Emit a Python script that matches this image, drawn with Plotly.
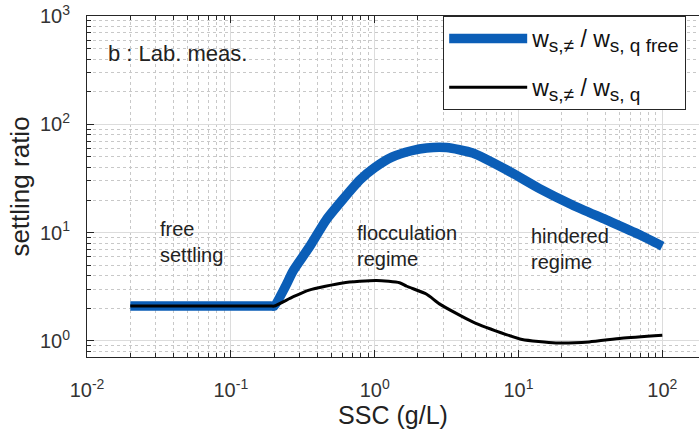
import math
import plotly.graph_objects as go

# ---- data ----
ssc_free = [0.02, 0.19, 0.2, 0.24, 0.27, 0.35, 0.46, 0.6, 0.79, 1.0, 1.33, 1.8, 2.3, 3.16,
            4.8, 8.3, 14, 23.7, 40.8, 69, 100]
ratio_free = [2.1, 2.1, 2.1, 3.2, 4.4, 7.3, 13.1, 20.2, 30.7, 39.8, 50, 57, 60.5, 61,
              54.4, 37.9, 25.5, 18.0, 13.1, 9.6, 7.5]

ssc_q = [0.02, 0.19, 0.2, 0.27, 0.35, 0.6, 1.03, 1.49, 1.67, 2.3, 2.82, 4.8, 8.3,
         10.6, 18.2, 31, 52, 100]
ratio_q = [2.1, 2.1, 2.1, 2.55, 2.95, 3.43, 3.62, 3.45, 3.2, 2.7, 2.2, 1.5, 1.14,
           1.03, 0.96, 0.98, 1.06, 1.13]

x_tickvals = [0.01, 0.1, 1, 10, 100]
x_ticktext = ["10<sup>-2</sup>", "10<sup>-1</sup>", "10<sup>0</sup>",
              "10<sup>1</sup>", "10<sup>2</sup>"]
y_tickvals = [1, 10, 100, 1000]
y_ticktext = ["10<sup>0</sup>", "10<sup>1</sup>", "10<sup>2</sup>", "10<sup>3</sup>"]
x_minor = [m * 10.0 ** d for d in range(-2, 3) for m in range(2, 10)]
y_minor = [m * 10.0 ** d for d in range(-1, 3) for m in range(2, 10)]

SUBSTYLE = '<span style="font-size:19px">'
legend_names = [
    "w<sub>" + SUBSTYLE + "s,≠</span></sub> / w<sub>" + SUBSTYLE + "s, q free</span></sub>",
    "w<sub>" + SUBSTYLE + "s,≠</span></sub> / w<sub>" + SUBSTYLE + "s, q</span></sub>",
]

region_labels = ["free<br>settling", "flocculation<br>regime", "hindered<br>regime"]
region_x = [0.031, 0.73, 11.9]   # SSC (g/L) of label left edges
region_y = [8.2, 7.6, 7.1]       # ratio at label centre

FONT = "Liberation Sans, Arial, sans-serif"
BLUE = "#0b5eb7"
AX = "#262626"

fig = go.Figure()
fig.add_trace(go.Scatter(x=ssc_free, y=ratio_free, mode="lines", name=legend_names[0],
                         legendgroup="a",
                         line=dict(color=BLUE, width=9.5, shape="spline", smoothing=0.6)))
fig.add_trace(go.Scatter(x=ssc_q, y=ratio_q, mode="lines", name=legend_names[1],
                         legendgroup="b",
                         line=dict(color="#000000", width=3, shape="spline", smoothing=0.6)))

for t, xv, yv in zip(region_labels, region_x, region_y):
    fig.add_annotation(x=math.log10(xv), y=math.log10(yv), xref="x", yref="y", text=t,
                       showarrow=False, xanchor="left", yanchor="middle", align="left",
                       font=dict(family=FONT, size=20, color="#222222"))

fig.add_annotation(x=0.031, y=0.89, xref="paper", yref="paper", text="b : Lab. meas.",
                   showarrow=False, xanchor="left", yanchor="middle",
                   font=dict(family=FONT, size=22, color="#222222"))

common = dict(type="log", showline=True, linecolor=AX, linewidth=1,
              ticks="inside", ticklen=7, tickcolor=AX, tickwidth=1,
              showgrid=True, gridcolor="#dcdcdc", gridwidth=1,
              tickfont=dict(family=FONT, size=20, color="#333333"),
              zeroline=False)

fig.update_xaxes(**common, range=[-2, 2.255], tickvals=x_tickvals, ticktext=x_ticktext,
                 minor=dict(tickvals=x_minor, ticks="inside", ticklen=4, tickcolor=AX,
                            showgrid=True, gridcolor="#c8c8c8", griddash="dot", gridwidth=1),
                 mirror="ticks", ticklabelstandoff=15,
                 title=dict(text="SSC (g/L)", font=dict(family=FONT, size=25, color="#222222"),
                            standoff=3))
fig.update_yaxes(**common, range=[-0.148, 3], tickvals=y_tickvals, ticktext=y_ticktext,
                 minor=dict(tickvals=y_minor, ticks="inside", ticklen=4, tickcolor=AX,
                            showgrid=True, gridcolor="#c8c8c8", griddash="dot", gridwidth=1),
                 ticklabelstandoff=12,
                 title=dict(text="settling ratio", font=dict(family=FONT, size=26, color="#222222"),
                            standoff=2))

fig.update_layout(
    width=699, height=436,
    margin=dict(l=87, r=0, t=16, b=79),
    paper_bgcolor="white", plot_bgcolor="white",
    showlegend=True,
    legend=dict(x=0.582, y=1, xanchor="left", yanchor="top",
                bgcolor="white", bordercolor=AX, borderwidth=1,
                font=dict(family=FONT, size=23, color="#111111"),
                itemwidth=78, tracegroupgap=16),
)

fig.write_html("out.html")
